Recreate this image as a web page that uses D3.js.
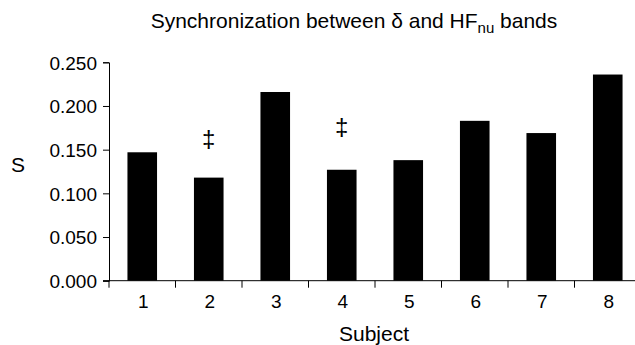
<!DOCTYPE html>
<html><head><meta charset="utf-8">
<script src="https://cdn.jsdelivr.net/npm/d3@7"></script>
<style>body{margin:0;background:#fff}svg{display:block}text{font-family:"Liberation Sans",Arial,sans-serif;fill:#000}</style>
</head><body>
<svg id="c" width="635" height="345"></svg>
<script>
const subjects = ["1","2","3","4","5","6","7","8"];
const sValues = [0.147, 0.118, 0.216, 0.127, 0.138, 0.183, 0.169, 0.236];
const yTicks = [0, 0.05, 0.10, 0.15, 0.20, 0.25];
const markSubjects = ["2","4"];
const markValues = [0.163, 0.176];

const svg = d3.select("#c");
const x = d3.scaleBand().domain(subjects).range([109, 641]).paddingInner(0.555).paddingOuter(0.2775);
const y = d3.scaleLinear().domain([0, 0.25]).range([280.7, 62.3]);

// bars
svg.append("g").selectAll("rect").data(subjects).join("rect")
  .attr("x", d => x(d)).attr("width", x.bandwidth())
  .attr("y", (d,i) => y(sValues[i])).attr("height", (d,i) => y(0) - y(sValues[i]))
  .attr("fill", "#000");

// y axis
const ya = svg.append("g").attr("transform", "translate(109,0)")
  .call(d3.axisLeft(y).tickValues(yTicks).tickFormat(d3.format(".3f")).tickSize(6).tickPadding(6));
ya.select(".domain").attr("stroke", "#000");
ya.selectAll(".tick line").attr("stroke", "#000");
ya.selectAll("text").style("font-size", "19px").attr("dy", "0.36em");

// x axis
const xa = svg.append("g").attr("transform", `translate(0,${y(0)})`);
xa.append("line").attr("x1", 103).attr("x2", 641).attr("y1", 0).attr("y2", 0).attr("stroke", "#000");
const step = x.step();
xa.selectAll("line.t").data(d3.range(0, subjects.length + 1)).join("line").attr("class","t")
  .attr("x1", i => 109 + i * step).attr("x2", i => 109 + i * step)
  .attr("y1", 0).attr("y2", 7).attr("stroke", "#000");
xa.selectAll("text").data(subjects).join("text")
  .attr("x", d => x(d) + x.bandwidth()/2 + 1).attr("y", 27)
  .attr("text-anchor", "middle").style("font-size", "19px").text(d => d);

// markers
svg.selectAll("text.mk").data(markSubjects).join("text").attr("class","mk")
  .attr("x", d => x(d) + x.bandwidth()/2).attr("y", (d,i) => y(markValues[i]))
  .attr("dy", "0.35em").attr("text-anchor", "middle").style("font-size", "24px").text("‡");

// title
const t = svg.append("text").attr("x", 354).attr("y", 28).attr("text-anchor", "middle").style("font-size", "21px");
t.append("tspan").text("Synchronization between δ and HF");
t.append("tspan").attr("dy", 5).style("font-size", "15px").text("nu");
t.append("tspan").attr("dy", -5).text(" bands");

// axis titles
svg.append("text").attr("x", 18).attr("y", 172).attr("text-anchor", "middle").style("font-size", "21px").text("S");
svg.append("text").attr("x", 374).attr("y", 341).attr("text-anchor", "middle").style("font-size", "21px").text("Subject");
</script>
</body></html>
